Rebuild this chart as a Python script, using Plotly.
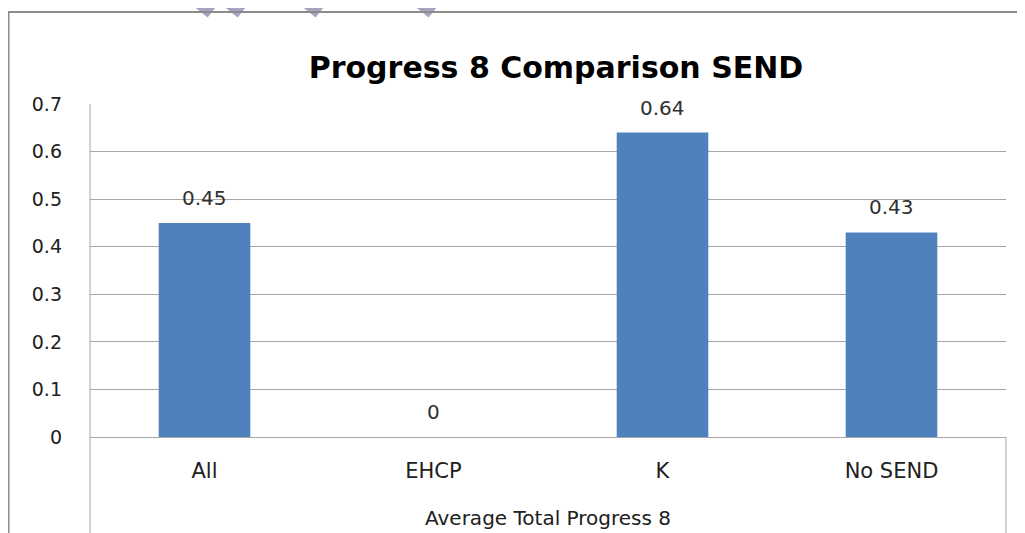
import plotly.graph_objects as go

categories = ["All", "EHCP", "K", "No SEND"]
values = [0.45, 0, 0.64, 0.43]
value_labels = ["0.45", "0", "0.64", "0.43"]
y_ticks = [0, 0.1, 0.2, 0.3, 0.4, 0.5, 0.6, 0.7]
y_tick_labels = ["0", "0.1", "0.2", "0.3", "0.4", "0.5", "0.6", "0.7"]

# page body has an 8px margin; figure is sized to fill the rest of the window
OFF = 8
W, H = 1025 - OFF, 533 - OFF
# plot area in screen pixels: x 90..1006, y 104..437
L, R, T, B = 90 - OFF, W - (1006 - OFF), 104 - OFF, H - (437 - OFF)
pw, ph = W - L - R, H - T - B

def px(sx):
    return (sx - OFF - L) / pw

def py(sy):
    return (H - B - (sy - OFF)) / ph

FONT = "DejaVu Sans"
fig = go.Figure()
fig.add_trace(go.Bar(
    x=categories, y=values,
    marker=dict(color="#4F81BD", line=dict(width=0)),
    width=0.4, hoverinfo="skip",
))

annotations = []
for c, v, t in zip(categories, values, value_labels):
    annotations.append(dict(x=c, y=v, xref="x", yref="y", text=t, showarrow=False,
                            yshift=25, yanchor="middle",
                            font=dict(family=FONT, size=20, color="#303030")))

annotations.append(dict(x=0.5, y=py(518), xref="paper", yref="paper", yanchor="middle",
                        text="Average Total Progress 8", showarrow=False,
                        font=dict(family=FONT, size=20, color="#202020")))

gray = "#8C8C8C"
shapes = [
    # outer chart border
    dict(type="line", xref="paper", yref="paper", x0=px(8.5), x1=px(8.5), y0=py(12), y1=py(540),
         line=dict(color=gray, width=2)),
    dict(type="line", xref="paper", yref="paper", x0=px(8), x1=px(1030), y0=py(12), y1=py(12),
         line=dict(color=gray, width=2)),
    # category box
    dict(type="line", xref="paper", yref="paper", x0=0, x1=0, y0=py(104), y1=py(540),
         line=dict(color="#A6A6A6", width=1)),
    dict(type="line", xref="paper", yref="paper", x0=1, x1=1, y0=0, y1=py(540),
         line=dict(color="#A6A6A6", width=1)),
]
# purple watermark strokes along the top edge
wm = "#ABA2C2"
for (x0, y0, x1, y1) in [(192, -4, 212, 12), (222, -4, 242, 12), (300, -4, 320, 12),
                         (413, -4, 433, 12)]:
    shapes.append(dict(type="line", xref="paper", yref="paper",
                       x0=px(x0), x1=px(x1), y0=py(y0), y1=py(y1),
                       line=dict(color=wm, width=14), layer="below"))

fig.update_layout(
    width=W, height=H,
    margin=dict(l=L, r=R, t=T, b=B),
    paper_bgcolor="white", plot_bgcolor="white",
    showlegend=False,
    bargap=0.6,
    title=dict(text="<b>Progress 8 Comparison SEND</b>", xref="container",
               x=(556 - OFF) / W, xanchor="center",
               y=1 - (67 - OFF) / H, yanchor="middle",
               font=dict(family=FONT, size=30, color="#000000")),
    xaxis=dict(showgrid=False, showline=False, ticks="",
               tickfont=dict(family=FONT, size=21, color="#202020"),
               ticklabelstandoff=19),
    yaxis=dict(range=[0, 0.7], tickvals=y_ticks, ticktext=y_tick_labels,
               showgrid=True, gridcolor="#A6A6A6", gridwidth=1,
               zeroline=True, zerolinecolor="#A6A6A6", zerolinewidth=1,
               showline=False, ticks="",
               tickfont=dict(family=FONT, size=19, color="#202020"),
               ticklabelstandoff=27),
    annotations=annotations,
    shapes=shapes,
)

fig.write_html("out.html")
